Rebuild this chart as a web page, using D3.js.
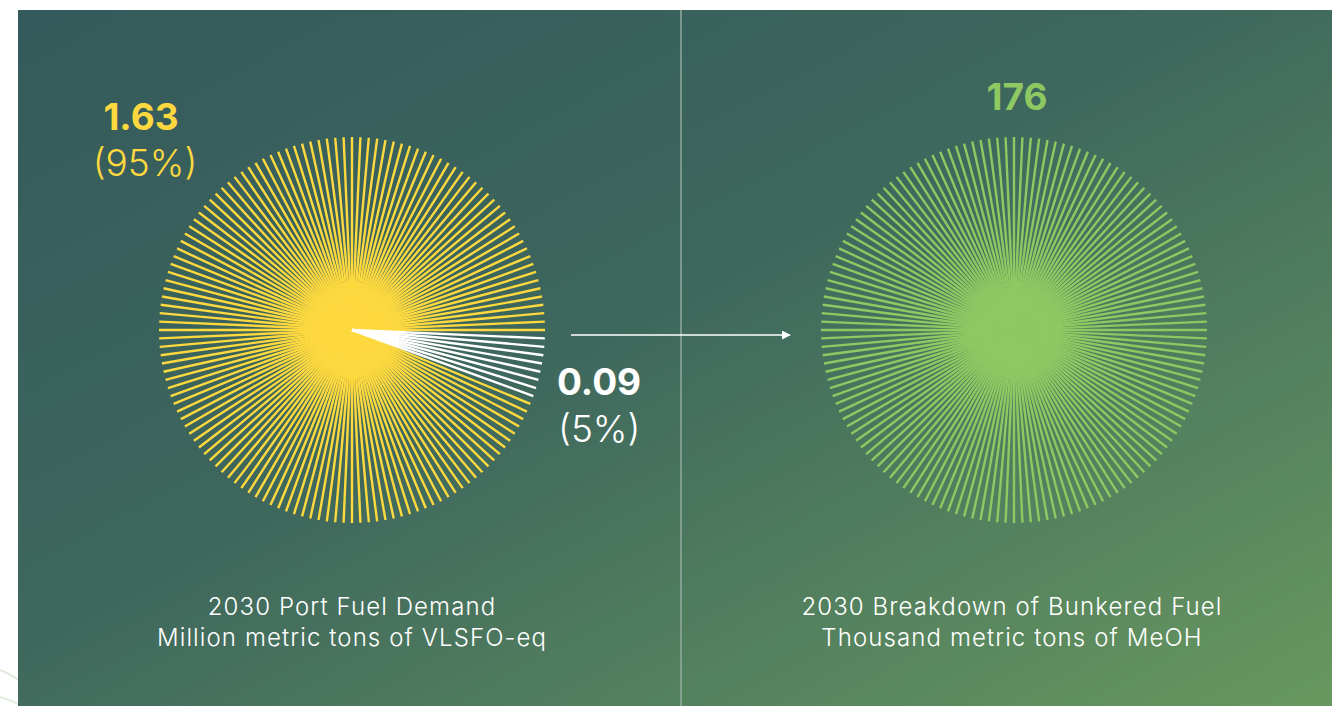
<!DOCTYPE html>
<html>
<head>
<meta charset="utf-8">
<script src="https://cdn.jsdelivr.net/npm/d3@7"></script>
<style>
  html, body { margin: 0; padding: 0; background: #ffffff; }
  svg { display: block; }
  text { font-family: "Inter", "Lato", sans-serif; }
</style>
</head>
<body>
<svg id="chart" width="1332" height="706"></svg>
<script>
// ---------- data ----------
const panels = ["demand", "bunkered"];
const demandValues = [1.63, 0.09];
const demandShares = [95, 5];
const demandLabels = ["1.63", "0.09"];
const demandShareLabels = ["(95%)", "(5%)"];
const bunkeredValues = [176];
const bunkeredLabels = ["176"];
const demandTitle = ["2030 Port Fuel Demand", "Million metric tons of VLSFO-eq"];
const bunkeredTitle = ["2030 Breakdown of Bunkered Fuel", "Thousand metric tons of MeOH"];
const spokeCount = 144;

// ---------- layout ----------
const W = 1332, H = 706;
const svg = d3.select("#chart");
const defs = svg.append("defs");
const grad = defs.append("linearGradient").attr("id", "bg")
  .attr("x1", "0%").attr("y1", "0%").attr("x2", "100%").attr("y2", "100%");
grad.append("stop").attr("offset", "0%").attr("stop-color", "#345a5b");
grad.append("stop").attr("offset", "45%").attr("stop-color", "#3e675d");
grad.append("stop").attr("offset", "100%").attr("stop-color", "#68985f");

const mk = defs.append("marker").attr("id", "arrow")
  .attr("viewBox", "0 0 10 10").attr("refX", 9).attr("refY", 5)
  .attr("markerWidth", 9).attr("markerHeight", 9).attr("markerUnits", "userSpaceOnUse")
  .attr("orient", "auto");
mk.append("path").attr("d", "M0,0 L10,5 L0,10 Z").attr("fill", "#ffffff");

// faint decorative curves in left white margin
svg.append("path").attr("d", "M0,670 Q10,674 22,682")
  .attr("fill", "none").attr("stroke", "#dfeadb").attr("stroke-width", 2);
svg.append("path").attr("d", "M0,697 Q10,700 20,705")
  .attr("fill", "none").attr("stroke", "#e4eee0").attr("stroke-width", 2);

svg.append("rect").attr("x", 18).attr("y", 10).attr("width", W - 18).attr("height", H - 10)
  .attr("fill", "url(#bg)");

// divider
svg.append("line").attr("x1", 681).attr("x2", 681).attr("y1", 10).attr("y2", H)
  .attr("stroke", "#9db3a8").attr("stroke-width", 1.3);

// arrow
svg.append("line").attr("x1", 571).attr("x2", 790).attr("y1", 335).attr("y2", 335)
  .attr("stroke", "#ffffff").attr("stroke-width", 1.3).attr("marker-end", "url(#arrow)");

const yellow = "#fdd93f", green = "#8ec862", white = "#ffffff";
const R = 193;
const angle = d3.scaleLinear().domain([0, spokeCount]).range([0, 2 * Math.PI]);
const spokes = d3.range(spokeCount);

// left circle: segment of small share starts at 92.5deg clockwise from top
const totalDemand = d3.sum(demandValues);
const smallCount = Math.round(spokeCount * demandValues[1] / totalDemand);
const smallStart = 37;
function isSmall(i) { return i >= smallStart && i < smallStart + smallCount; }

function drawBurst(cx, cy, colorFn, order) {
  const g = svg.append("g").attr("transform", `translate(${cx},${cy})`);
  g.selectAll("line").data(order).join("line")
    .attr("x1", 0).attr("y1", 0)
    .attr("x2", i => R * Math.sin(angle(i)))
    .attr("y2", i => -R * Math.cos(angle(i)))
    .attr("stroke", colorFn)
    .attr("stroke-width", 2.4);
}
const leftOrder = spokes.filter(i => !isSmall(i)).concat(spokes.filter(isSmall));
drawBurst(352, 330, i => isSmall(i) ? white : yellow, leftOrder);
drawBurst(1014, 330, () => green, spokes);

// value labels
svg.append("text").attr("x", 141).attr("y", 130).attr("text-anchor", "middle")
  .attr("font-size", 37).attr("font-weight", 700).attr("fill", yellow).text(demandLabels[0]);
svg.append("text").attr("x", 145).attr("y", 176).attr("text-anchor", "middle")
  .attr("font-size", 37).attr("font-weight", 300).attr("fill", yellow).text(demandShareLabels[0]);
svg.append("text").attr("x", 557).attr("y", 395).attr("text-anchor", "start")
  .attr("font-size", 37).attr("font-weight", 700).attr("fill", white).text(demandLabels[1]);
svg.append("text").attr("x", 558).attr("y", 442).attr("text-anchor", "start")
  .attr("font-size", 37).attr("font-weight", 300).attr("fill", white).text(demandShareLabels[1]);
svg.append("text").attr("x", 1017).attr("y", 110).attr("text-anchor", "middle")
  .attr("font-size", 37).attr("font-weight", 700).attr("fill", green).text(bunkeredLabels[0]);

// titles
function title(cx, lines) {
  svg.append("g").selectAll("text").data(lines).join("text")
    .attr("x", cx).attr("y", (d, i) => 615 + i * 31)
    .attr("text-anchor", "middle").attr("font-size", 24).attr("font-weight", 300)
    .attr("letter-spacing", "1.1px")
    .attr("fill", "#ffffff").text(d => d);
}
title(352, demandTitle);
title(1012, bunkeredTitle);
</script>
</body>
</html>
